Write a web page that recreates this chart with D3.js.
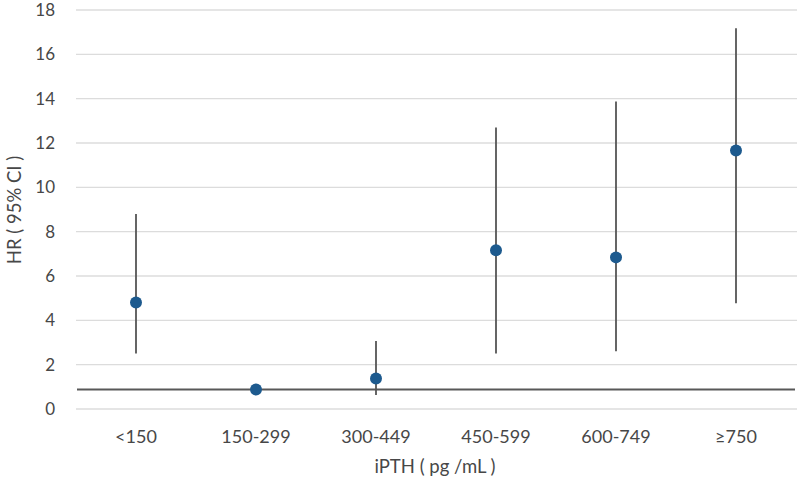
<html>
<head>
<script src="https://cdn.jsdelivr.net/npm/d3@7"></script>
<style>
  body { margin: 0; background: #fff; }
  text { font-family: Lato, "Open Sans", sans-serif; fill: #474747; }
</style>
</head>
<body>
<script>
  // data
  const categories = ["<150", "150-299", "300-449", "450-599", "600-749", "\u2265750"];
  const hr   = [4.8, 0.88, 1.38, 7.16, 6.84, 11.66];
  const low  = [2.5, 0.88, 0.63, 2.5, 2.6, 4.77];
  const high = [8.8, 0.88, 3.07, 12.7, 13.87, 17.18];
  const yTicks = [0, 2, 4, 6, 8, 10, 12, 14, 16, 18];
  const refLine = 0.88;

  const width = 800, height = 483;
  const margin = {top: 10, right: 4, bottom: 74, left: 76};

  const svg = d3.select("body").append("svg")
      .attr("width", width)
      .attr("height", height);

  const x = d3.scaleBand()
      .domain(categories)
      .range([margin.left, width - margin.right]);

  const y = d3.scaleLinear()
      .domain([0, 18])
      .range([height - margin.bottom, margin.top]);

  // gridlines
  svg.append("g")
    .selectAll("line")
    .data(yTicks)
    .join("line")
      .attr("x1", margin.left)
      .attr("x2", width - 3)
      .attr("y1", d => y(d))
      .attr("y2", d => y(d))
      .attr("stroke", "#dcdcdc")
      .attr("stroke-width", 1.3);

  // y tick labels
  svg.append("g")
    .selectAll("text")
    .data(yTicks)
    .join("text")
      .attr("x", 55)
      .attr("y", d => y(d))
      .attr("dy", "0.35em")
      .attr("text-anchor", "end")
      .attr("font-size", 17)
      .text(d => d);

  // reference line
  svg.append("line")
    .attr("x1", 77)
    .attr("x2", 795)
    .attr("y1", y(refLine))
    .attr("y2", y(refLine))
    .attr("stroke", "#585858")
    .attr("stroke-width", 2);

  const pts = categories.map((c, i) => ({c: c, hr: hr[i], lo: low[i], hi: high[i]}));

  // CI whiskers
  svg.append("g")
    .selectAll("line")
    .data(pts.filter(d => d.hi > d.lo))
    .join("line")
      .attr("x1", d => x(d.c) + x.bandwidth() / 2)
      .attr("x2", d => x(d.c) + x.bandwidth() / 2)
      .attr("y1", d => y(d.lo))
      .attr("y2", d => y(d.hi))
      .attr("stroke", "#555")
      .attr("stroke-width", 1.8);

  // points
  svg.append("g")
    .selectAll("circle")
    .data(pts)
    .join("circle")
      .attr("cx", d => x(d.c) + x.bandwidth() / 2)
      .attr("cy", d => y(d.hr))
      .attr("r", 6)
      .attr("fill", "#1d5a8e");

  // x labels
  svg.append("g")
    .selectAll("text")
    .data(categories)
    .join("text")
      .attr("x", d => x(d) + x.bandwidth() / 2)
      .attr("y", 437)
      .attr("dy", "0.35em")
      .attr("text-anchor", "middle")
      .attr("font-size", 18)
      .text(d => d);

  // axis titles
  svg.append("text")
    .attr("x", 435)
    .attr("y", 467)
    .attr("dy", "0.35em")
    .attr("text-anchor", "middle")
    .attr("font-size", 18.5)
    .text("iPTH ( pg /mL )");

  svg.append("text")
    .attr("transform", "translate(15,210) rotate(-90)")
    .attr("dy", "0.35em")
    .attr("text-anchor", "middle")
    .attr("font-size", 18.5)
    .text("HR ( 95% CI )");
</script>
</body>
</html>
